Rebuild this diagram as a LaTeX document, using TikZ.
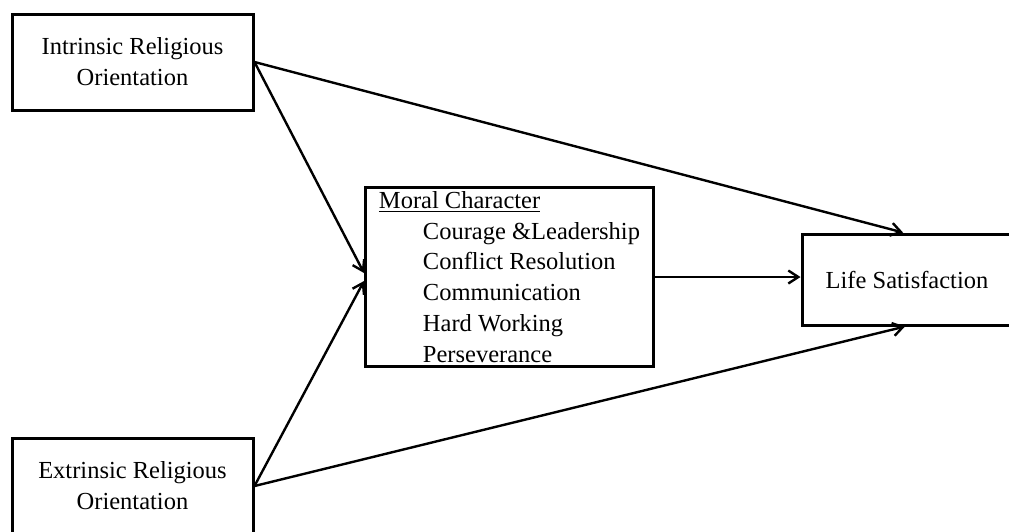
\documentclass[tikz,border=0pt]{standalone}
\usepackage{fontspec}
\setmainfont{Liberation Serif}
\usetikzlibrary{arrows.meta}
% underline drawn as a thicker rule under the text
\newcommand\undertext[1]{\setbox0\hbox{#1}\rlap{\rule[-4pt]{\wd0}{1.6pt}}\box0}
\begin{document}
\begin{tikzpicture}[x=1pt,y=-1pt,
  box/.style={draw, line width=3pt, rectangle, inner sep=0pt,
    font=\fontsize{24.5pt}{31pt}\selectfont, align=center},
  link/.style={line width=2.4pt, -{Straight Barb[length=10pt,width=13pt]}}]
\useasboundingbox (0,0) rectangle (1009,531);
\clip (0,0) rectangle (1009,531);

% predictors
\node[box, minimum width=241pt, minimum height=96pt] (intr) at (132.5,62)
  {Intrinsic Religious\\Orientation};
\node[box, minimum width=241pt, minimum height=96pt] (extr) at (132.5,486)
  {Extrinsic Religious\\Orientation};

% mediator
\node[box, anchor=north west, minimum height=179pt, minimum width=288pt,
  inner xsep=13pt, align=left,
  font=\fontsize{24.5pt}{30.8pt}\selectfont] (moral) at (364,186)
  {\undertext{Moral Character}\\
   \hspace*{44pt}Courage \&Leadership\\
   \hspace*{44pt}Conflict Resolution\\
   \hspace*{44pt}Communication\\
   \hspace*{44pt}Hard Working\\
   \hspace*{44pt}Perseverance};

% outcome
\node[box, minimum width=210pt, minimum height=91pt] (life) at (907,279.5)
  {Life Satisfaction};

% paths
\draw[link] (intr.east) -- ([yshift=4pt]moral.west);
\draw[link] (extr.east) -- ([yshift=-4pt]moral.west);
\draw[link] (intr.east) -- ([xshift=-4pt]life.north);
\draw[link] (extr.east) -- ([xshift=-2pt]life.south);
\draw[link] (moral.east) -- (moral.east -| life.west);
\end{tikzpicture}
\end{document}
